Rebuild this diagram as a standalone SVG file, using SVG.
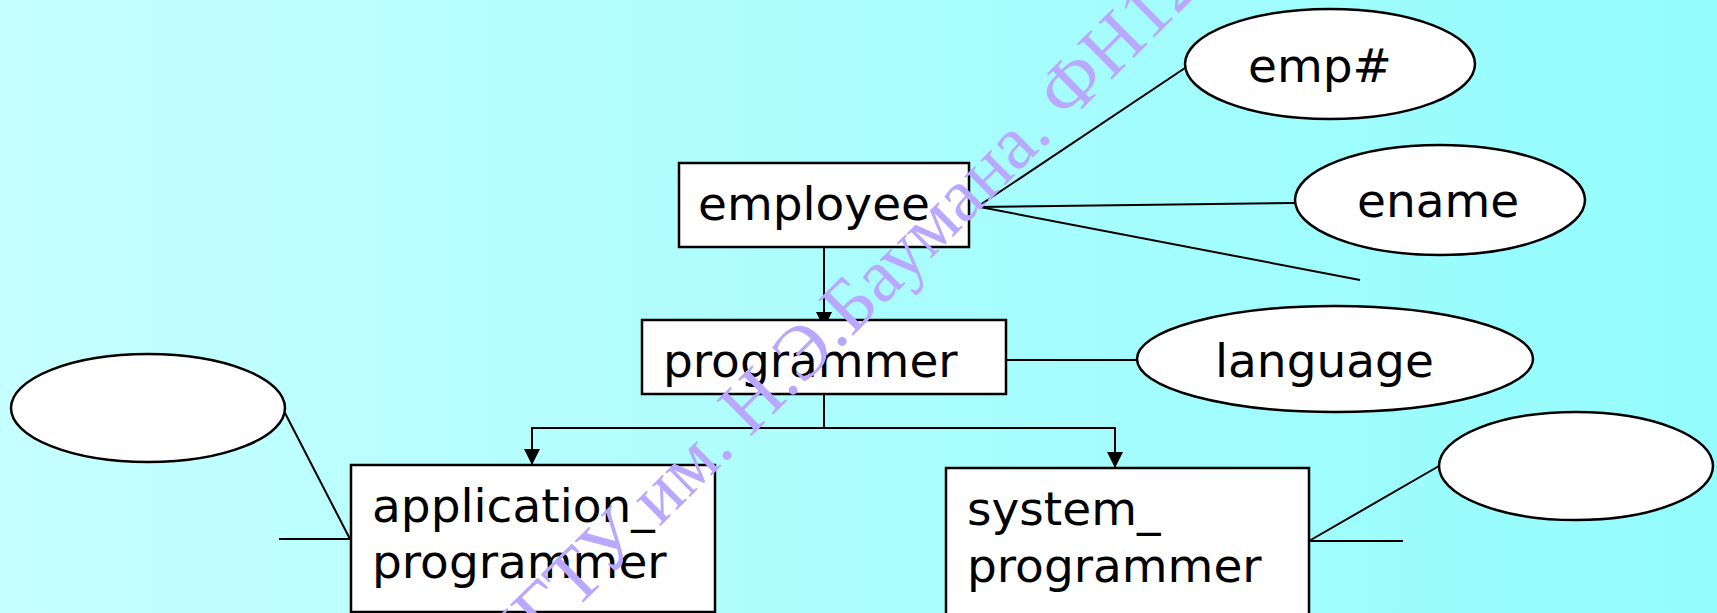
<svg xmlns="http://www.w3.org/2000/svg" width="1717" height="613" viewBox="0 0 1717 613">
  <defs>
    <linearGradient id="bg" x1="0" y1="0" x2="1" y2="0">
      <stop offset="0" stop-color="#c6ffff"/>
      <stop offset="0.5" stop-color="#abfdfd"/>
      <stop offset="1" stop-color="#94fcfc"/>
    </linearGradient>
    <marker id="arrow" markerUnits="userSpaceOnUse" markerWidth="16" markerHeight="17" refX="16" refY="8" orient="auto">
      <path d="M0,0 L16,8 L0,16 Z" fill="#000"/>
    </marker>
    <style>
      .box { fill: #ffffff; stroke: #000; stroke-width: 2.5; }
      .attr { fill: #ffffff; stroke: #000; stroke-width: 2.5; }
      .lbl { font-family: "DejaVu Sans", Verdana, sans-serif; font-size: 47px; fill: #000; }
      .ln { stroke: #000; stroke-width: 2; fill: none; }
      .wm { font-family: "Liberation Serif", "Times New Roman", serif; font-size: 76px; fill: #b9a8ff; }
    </style>
  </defs>

  <rect x="0" y="0" width="1717" height="613" fill="url(#bg)"/>

  <g id="connectors">
    <!-- ISA hierarchy -->
    <line class="ln" x1="824" y1="247" x2="824" y2="328" marker-end="url(#arrow)"/>
    <polyline class="ln" points="824,394 824,428 532,428 532,465" marker-end="url(#arrow)"/>
    <polyline class="ln" points="824,428 1115,428 1115,468" marker-end="url(#arrow)"/>
    <!-- attribute links -->
    <line class="ln" x1="977" y1="207" x2="1185" y2="68"/>
    <line class="ln" x1="977" y1="207" x2="1294" y2="203"/>
    <line class="ln" x1="980" y1="207" x2="1360" y2="280"/>
    <line class="ln" x1="1007" y1="360" x2="1137" y2="360"/>
    <line class="ln" x1="285" y1="413" x2="350" y2="539"/>
    <line class="ln" x1="279" y1="539" x2="350" y2="539"/>
    <line class="ln" x1="1439" y1="466" x2="1309" y2="541"/>
    <line class="ln" x1="1309" y1="541" x2="1403" y2="541"/>
  </g>

  <g id="employee">
    <rect class="box" x="679" y="163" width="290" height="84"/>
    <text class="lbl" x="698" y="220">employee</text>
  </g>

  <g id="programmer">
    <rect class="box" x="642" y="320" width="364" height="74"/>
    <text class="lbl" x="663" y="377">programmer</text>
  </g>

  <g id="application_programmer">
    <rect class="box" x="351" y="465" width="364" height="147"/>
    <text class="lbl" x="372" y="522">application_</text>
    <text class="lbl" x="372" y="578">programmer</text>
  </g>

  <g id="system_programmer">
    <rect class="box" x="946" y="468" width="363" height="160"/>
    <text class="lbl" x="967" y="525">system_</text>
    <text class="lbl" x="967" y="582">programmer</text>
  </g>

  <g id="emp_no">
    <ellipse class="attr" cx="1330" cy="64" rx="145" ry="55"/>
    <text class="lbl" x="1248" y="82">emp#</text>
  </g>

  <g id="ename">
    <ellipse class="attr" cx="1440" cy="200" rx="145" ry="55"/>
    <text class="lbl" x="1357" y="217">ename</text>
  </g>

  <g id="language">
    <ellipse class="attr" cx="1335" cy="359" rx="198" ry="53"/>
    <text class="lbl" x="1215" y="377">language</text>
  </g>

  <g id="app_attr">
    <ellipse class="attr" cx="148" cy="408" rx="137" ry="54"/>
  </g>

  <g id="sys_attr">
    <ellipse class="attr" cx="1576" cy="466" rx="137" ry="54"/>
  </g>

  <!-- watermark -->
  <g transform="translate(728,455) rotate(-44.7)">
    <text class="wm" x="-330" y="3">МГТУ им. Н.Э.Баумана. ФН12</text>
  </g>
</svg>
